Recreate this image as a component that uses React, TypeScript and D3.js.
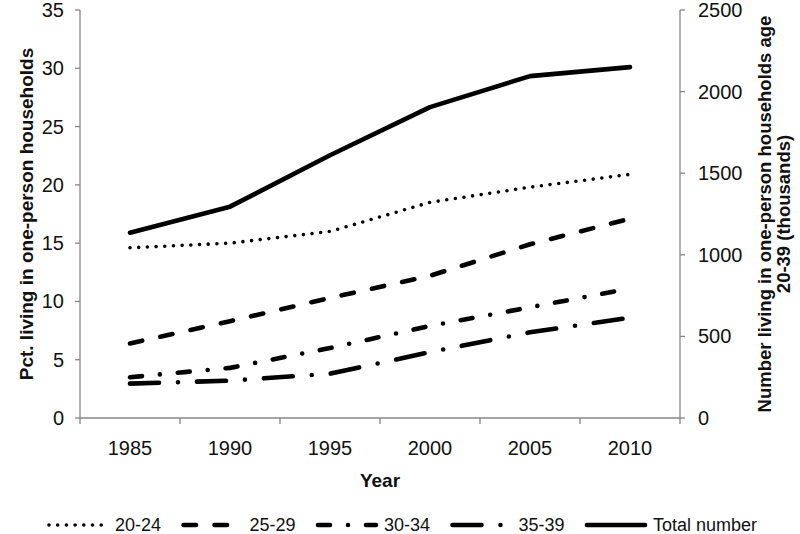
import React from "react";
import * as d3 from "d3";

const years = ["1985", "1990", "1995", "2000", "2005", "2010"];
const age2024 = [14.6, 15.0, 16.0, 18.5, 19.8, 20.9];
const age2529 = [6.4, 8.3, 10.3, 12.2, 14.9, 17.1];
const age3034 = [3.5, 4.3, 6.0, 7.9, 9.5, 11.1];
const age3539 = [2.95, 3.2, 3.8, 5.65, 7.35, 8.6];
const totalNumber = [1135, 1295, 1610, 1905, 2095, 2150];
const leftTicks = [0, 5, 10, 15, 20, 25, 30, 35];
const rightTicks = [0, 500, 1000, 1500, 2000, 2500];

const seriesNames = ["20-24", "25-29", "30-34", "35-39", "Total number"];

const W = 800;
const H = 534;
const plot = { left: 80, right: 680, top: 10, bottom: 418 };
const axisColor = "#868686";
const font = "'Liberation Sans', Arial, sans-serif";
const tickSize = 20;

const styles = [
  { width: 3.6, dash: "0 8.7" },
  { width: 4.6, dash: "12.5 18.5" },
  { width: 4.6, dash: "12 18 0 18" },
  { width: 4.6, dash: "29 19 0 19" },
  { width: 4.6, dash: "" },
];

export default function App() {
  const x = d3.scaleBand<string>().domain(years).range([plot.left, plot.right]);
  const yL = d3.scaleLinear().domain([0, 35]).range([plot.bottom, plot.top]);
  const yR = d3.scaleLinear().domain([0, 2500]).range([plot.bottom, plot.top]);
  const cx = (yr: string) => (x(yr) as number) + x.bandwidth() / 2;

  const lineL = d3
    .line<number>()
    .x((_, i) => cx(years[i]))
    .y((d) => yL(d));
  const lineR = d3
    .line<number>()
    .x((_, i) => cx(years[i]))
    .y((d) => yR(d));

  const paths = [
    lineL(age2024),
    lineL(age2529),
    lineL(age3034),
    lineL(age3539),
    lineR(totalNumber),
  ];

  const boundaries = [...years.map((y) => x(y) as number), plot.right];
  const midY = (plot.top + plot.bottom) / 2;

  return (
    <svg
      width={W}
      height={H}
      style={{ position: "absolute", left: 0, top: 0, background: "#fff" }}
      fontFamily={font}
    >
      <rect x={0} y={0} width={W} height={H} fill="#fff" />
      {/* left axis */}
      <line x1={plot.left} x2={plot.left} y1={plot.top} y2={plot.bottom} stroke={axisColor} strokeWidth={1.3} />
      {leftTicks.map((t) => (
        <g key={"l" + t}>
          <line x1={plot.left - 5} x2={plot.left} y1={yL(t)} y2={yL(t)} stroke={axisColor} strokeWidth={1.3} />
          <text x={plot.left - 16} y={yL(t)} dy="0.35em" textAnchor="end" fontSize={tickSize} fill="#111">
            {t}
          </text>
        </g>
      ))}
      {/* right axis */}
      <line x1={plot.right} x2={plot.right} y1={plot.top} y2={plot.bottom} stroke={axisColor} strokeWidth={1.3} />
      {rightTicks.map((t) => (
        <g key={"r" + t}>
          <line x1={plot.right} x2={plot.right + 5} y1={yR(t)} y2={yR(t)} stroke={axisColor} strokeWidth={1.3} />
          <text x={plot.right + 18} y={yR(t)} dy="0.35em" textAnchor="start" fontSize={tickSize} fill="#111">
            {t}
          </text>
        </g>
      ))}
      {/* x axis */}
      <line x1={plot.left} x2={plot.right} y1={plot.bottom} y2={plot.bottom} stroke={axisColor} strokeWidth={1.3} />
      {boundaries.map((b, i) => (
        <line key={"xt" + i} x1={b} x2={b} y1={plot.bottom} y2={plot.bottom + 6} stroke={axisColor} strokeWidth={1.3} />
      ))}
      {years.map((yr) => (
        <text key={"xl" + yr} x={cx(yr)} y={455} textAnchor="middle" fontSize={tickSize} fill="#111">
          {yr}
        </text>
      ))}
      {/* axis titles */}
      <text x={(plot.left + plot.right) / 2} y={487} textAnchor="middle" fontSize={19} fontWeight="bold" fill="#111">
        Year
      </text>
      <text
        transform={`translate(33,${midY}) rotate(-90)`}
        textAnchor="middle"
        fontSize={19}
        fontWeight="bold"
        fill="#111"
      >
        Pct. living in one-person households
      </text>
      <text
        transform={`translate(771,${midY}) rotate(-90)`}
        textAnchor="middle"
        fontSize={18.5}
        fontWeight="bold"
        fill="#111"
      >
        Number living in one-person households age
      </text>
      <text
        transform={`translate(790,${midY}) rotate(-90)`}
        textAnchor="middle"
        fontSize={18.5}
        fontWeight="bold"
        fill="#111"
      >
        20-39 (thousands)
      </text>
      {/* series */}
      {paths.map((p, i) => (
        <path
          key={"s" + i}
          d={p || ""}
          fill="none"
          stroke="#000"
          strokeWidth={styles[i].width}
          strokeDasharray={styles[i].dash || undefined}
          strokeLinecap="round"
          strokeLinejoin="round"
        />
      ))}
      {/* legend */}
      {seriesNames.map((name, i) => {
        const x0 = 47 + i * 134.5;
        return (
          <g key={"lg" + i}>
            <line
              x1={x0 + 2}
              x2={x0 + 60}
              y1={525}
              y2={525}
              stroke="#000"
              strokeWidth={styles[i].width}
              strokeDasharray={styles[i].dash || undefined}
              strokeLinecap="round"
            />
            <text x={x0 + 68} y={531} fontSize={18} fill="#111">
              {name}
            </text>
          </g>
        );
      })}
    </svg>
  );
}
